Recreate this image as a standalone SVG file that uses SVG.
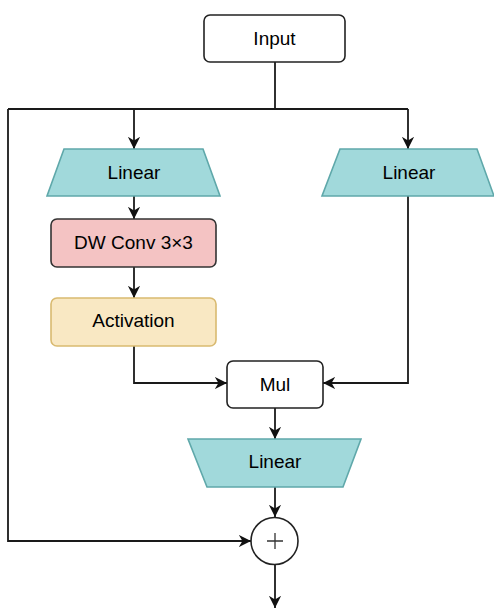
<svg xmlns="http://www.w3.org/2000/svg" width="494" height="609" viewBox="0 0 494 609">
<style>
text{font-family:"Liberation Sans",Arial,sans-serif;font-size:19px;fill:#000;text-anchor:middle}
.box{fill:#fff;stroke:#222;stroke-width:1.6}
.lin{fill:#a1d9db;stroke:#5fa8aa;stroke-width:1.6}
.dw{fill:#f4c3c3;stroke:#333;stroke-width:1.6}
.act{fill:#f9e8c3;stroke:#d9ba70;stroke-width:1.6}
.c{fill:none;stroke:#1a1a1a;stroke-width:1.8}
</style>
<defs>
<marker id="a" viewBox="0 0 10 10" refX="10" refY="5" markerWidth="6.8" markerHeight="6.8" orient="auto" markerUnits="strokeWidth">
<path d="M0,0 L10,5 L0,10 L3,5 Z" fill="#111"/>
</marker>
</defs>
<g id="connectors">
<path class="c" d="M275,62 V109"/>
<path class="c" d="M8,109 H408"/>
<path class="c" d="M134,109 V149" marker-end="url(#a)"/>
<path class="c" d="M408,109 V149" marker-end="url(#a)"/>
<path class="c" d="M134,196 V219" marker-end="url(#a)"/>
<path class="c" d="M134,267 V298" marker-end="url(#a)"/>
<path class="c" d="M134,346 V383 H227" marker-end="url(#a)"/>
<path class="c" d="M408,196 V383 H323" marker-end="url(#a)"/>
<path class="c" d="M275,408 V439" marker-end="url(#a)"/>
<path class="c" d="M275,487 V517" marker-end="url(#a)"/>
<path class="c" d="M8,109 V541 H251" marker-end="url(#a)"/>
<path class="c" d="M275,565 V608" marker-end="url(#a)"/>
</g>
<g id="input">
<rect class="box" x="204" y="15" width="141" height="47" rx="6"/>
<text x="274.5" y="45">Input</text>
</g>
<g id="linear1">
<path class="lin" d="M64,149 H203 L220,196 H47 Z"/>
<text x="134" y="179">Linear</text>
</g>
<g id="linear2">
<path class="lin" d="M340,149 H477 L494,196 H322 Z"/>
<text x="409" y="179">Linear</text>
</g>
<g id="dwconv">
<rect class="dw" x="51" y="219" width="165" height="48" rx="6"/>
<text x="133.5" y="249">DW Conv 3×3</text>
</g>
<g id="activation">
<rect class="act" x="51" y="298" width="165" height="48" rx="6"/>
<text x="133.5" y="327">Activation</text>
</g>
<g id="mul">
<rect class="box" x="227" y="361" width="96" height="47" rx="6"/>
<text x="275" y="391">Mul</text>
</g>
<g id="linear3">
<path class="lin" d="M188,439 H361 L343,487 H207 Z"/>
<text x="275" y="468">Linear</text>
</g>
<g id="add">
<circle cx="274.5" cy="541" r="23.5" fill="#fff" stroke="#222" stroke-width="1.6"/>
<path d="M267,541 H283 M275,533 V549" stroke="#333" stroke-width="1.3" fill="none"/>
</g>
</svg>
